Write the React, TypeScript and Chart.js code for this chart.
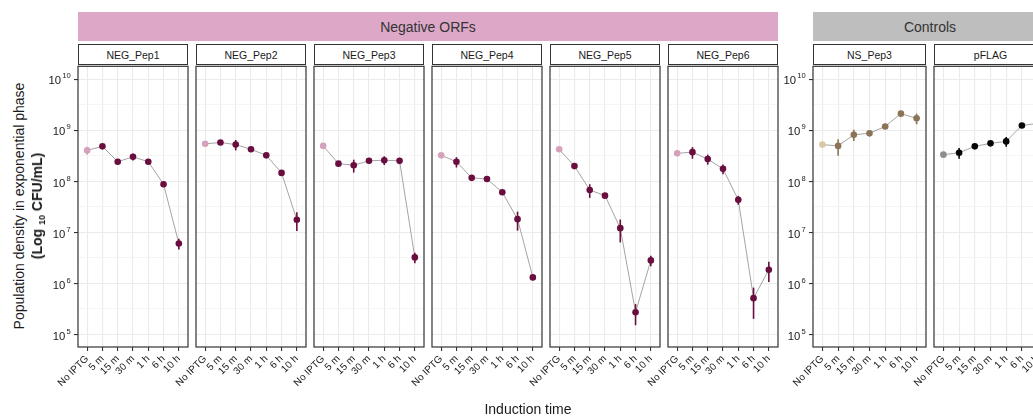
import React, { useEffect, useRef } from 'react';
import { Chart, registerables } from 'chart.js';

Chart.register(...registerables);

// ---------------- DATA ----------------
const timeLabels = ['No IPTG', '5 m', '15 m', '30 m', '1 h', '6 h', '10 h'];
const yMajorExponents = [5, 6, 7, 8, 9, 10];
const yMinorExponents = [5.5, 6.5, 7.5, 8.5, 9.5];
const yLimitExponents = [4.75, 10.25];

const negPep1Mean = [4.0e8, 4.8e8, 2.4e8, 3.0e8, 2.4e8, 8.7e7, 6.0e6];
const negPep1Sd = [0.7e8, 0.4e8, 0.2e8, 0.45e8, 0.2e8, 0.8e7, 1.4e6];
const negPep2Mean = [5.4e8, 5.7e8, 5.2e8, 4.2e8, 3.2e8, 1.45e8, 1.75e7];
const negPep2Sd = [0.3e8, 0.4e8, 1.2e8, 0.3e8, 0.2e8, 0.15e8, 0.7e7];
const negPep3Mean = [4.9e8, 2.2e8, 2.05e8, 2.5e8, 2.57e8, 2.5e8, 3.2e6];
const negPep3Sd = [0.2e8, 0.2e8, 0.58e8, 0.3e8, 0.5e8, 0.35e8, 0.75e6];
const negPep4Mean = [3.2e8, 2.4e8, 1.16e8, 1.1e8, 6.05e7, 1.8e7, 1.3e6];
const negPep4Sd = [0.2e8, 0.55e8, 0.1e8, 0.08e8, 0.4e7, 0.73e7, 0.1e6];
const negPep5Mean = [4.2e8, 1.97e8, 6.7e7, 5.2e7, 1.2e7, 2.7e5, 2.8e6];
const negPep5Sd = [0.2e8, 0.1e8, 2.0e7, 0.3e7, 5.7e6, 1.2e5, 0.65e6];
const negPep6Mean = [3.5e8, 3.7e8, 2.7e8, 1.74e8, 4.3e7, 5.1e5, 1.84e6];
const negPep6Sd = [0.2e8, 0.95e8, 0.6e8, 0.37e8, 0.85e7, 3.1e5, 0.78e6];
const nsPep3Mean = [5.2e8, 4.9e8, 8.1e8, 8.7e8, 1.18e9, 2.1e9, 1.7e9];
const nsPep3Sd = [0.3e8, 1.75e8, 2.0e8, 1.2e8, 0.8e8, 1.0e8, 0.4e9];
const pFlagMean = [3.3e8, 3.6e8, 4.8e8, 5.5e8, 6.0e8, 1.23e9, 1.35e9];
const pFlagSd = [0.2e8, 0.85e8, 0.4e8, 0.4e8, 1.3e8, 0.8e8, 1.5e8];

const panelNames = ['NEG_Pep1', 'NEG_Pep2', 'NEG_Pep3', 'NEG_Pep4', 'NEG_Pep5', 'NEG_Pep6', 'NS_Pep3', 'pFLAG'];
const panelMeans = [negPep1Mean, negPep2Mean, negPep3Mean, negPep4Mean, negPep5Mean, negPep6Mean, nsPep3Mean, pFlagMean];
const panelSds = [negPep1Sd, negPep2Sd, negPep3Sd, negPep4Sd, negPep5Sd, negPep6Sd, nsPep3Sd, pFlagSd];
const panelKinds = ['neg', 'neg', 'neg', 'neg', 'neg', 'neg', 'ns', 'pflag'];

const groupNames = ['Negative ORFs', 'Controls'];

// ---------------- STYLE / LAYOUT ----------------
const FONT = '"Liberation Sans", Arial, Helvetica, sans-serif';
const kindColors: Record<string, [string, string]> = {
  neg: ['#D5A2BB', '#6A0E3F'],
  ns: ['#D9C8A1', '#8B7457'],
  pflag: ['#8E8E8E', '#050505'],
};
const PANEL_TOP = 65;
const PANEL_H = 282;
const X_AXIS_H = 60;
const LEFT_PAD = 40;
const panelBoxes = [
  { left: 78, width: 110, showY: true },
  { left: 196, width: 110, showY: false },
  { left: 314, width: 110, showY: false },
  { left: 432, width: 110, showY: false },
  { left: 550, width: 110, showY: false },
  { left: 668, width: 110, showY: false },
  { left: 813, width: 113, showY: true },
  { left: 934, width: 113, showY: false },
];
const groupBoxes = [
  { left: 78, width: 700, bg: '#DDA8C8' },
  { left: 813, width: 234, bg: '#BEBEBE' },
];

function Panel({ idx }: { idx: number }) {
  const ref = useRef<HTMLCanvasElement>(null);
  const box = panelBoxes[idx];
  const cw = LEFT_PAD + box.width + 4;
  const ch = 2 + PANEL_H + X_AXIS_H;

  useEffect(() => {
    const mean = panelMeans[idx];
    const sd = panelSds[idx];
    const [light, dark] = kindColors[panelKinds[idx]];
    const colors = mean.map((_, i) => (i === 0 ? light : dark));

    const overlay = {
      id: 'overlay' + idx,
      afterDatasetsDraw(chart: any) {
        const { ctx, scales } = chart;
        const xs = scales.x, ys = scales.y;
        ctx.save();
        ctx.lineWidth = 1.6;
        mean.forEach((m, i) => {
          const px = xs.getPixelForValue(i);
          ctx.strokeStyle = colors[i];
          ctx.beginPath();
          ctx.moveTo(px, ys.getPixelForValue(Math.max(m - sd[i], 1)));
          ctx.lineTo(px, ys.getPixelForValue(m + sd[i]));
          ctx.stroke();
        });
        ctx.restore();
      },
      afterDraw(chart: any) {
        const { ctx, chartArea, scales } = chart;
        ctx.save();
        ctx.strokeStyle = '#333333';
        ctx.lineWidth = 1.2;
        ctx.strokeRect(chartArea.left, chartArea.top, chartArea.right - chartArea.left, chartArea.bottom - chartArea.top);
        if (box.showY) {
          ctx.fillStyle = '#1a1a1a';
          ctx.textAlign = 'left';
          ctx.textBaseline = 'alphabetic';
          const right = chartArea.left - 7.3;
          for (const e of yMajorExponents) {
            const py = scales.y.getPixelForValue(Math.pow(10, e));
            ctx.font = `7.6px ${FONT}`;
            const es = String(e);
            const we = ctx.measureText(es).width;
            ctx.fillText(es, right - we, py - 0.6);
            ctx.font = `11.3px ${FONT}`;
            const wb = ctx.measureText('10').width;
            ctx.fillText('10', right - we - 1.2 - wb, py + 5.4);
          }
        }
        ctx.restore();
      },
    };

    const chart = new Chart(ref.current as HTMLCanvasElement, {
      type: 'line',
      data: {
        datasets: [
          {
            data: mean.map((v, i) => ({ x: i, y: v })),
            borderColor: '#9A9A9A',
            borderWidth: 0.9,
            pointRadius: 3.3,
            pointHoverRadius: 3.3,
            pointBorderWidth: 0,
            pointBackgroundColor: colors,
            tension: 0,
            fill: false,
          },
        ],
      },
      options: {
        animation: false,
        responsive: false,
        maintainAspectRatio: false,
        events: [],
        layout: { padding: { left: LEFT_PAD, top: 2, right: 4, bottom: 0 } },
        plugins: { legend: { display: false }, tooltip: { enabled: false }, title: { display: false } },
        scales: {
          x: {
            type: 'linear',
            min: -0.6,
            max: 6.6,
            bounds: 'data',
            afterBuildTicks: (s: any) => {
              s.ticks = timeLabels.map((_, i) => ({ value: i }));
            },
            afterFit: (s: any) => {
              s.height = X_AXIS_H;
            },
            ticks: {
              autoSkip: false,
              minRotation: 45,
              maxRotation: 45,
              padding: 2,
              color: '#1a1a1a',
              font: { size: 10, family: FONT },
              callback: (v: any) => timeLabels[Math.round(Number(v))],
            },
            grid: { color: '#EBEBEB', lineWidth: 1.1, tickLength: 4, tickColor: '#333333', drawTicks: true },
            border: { display: false },
          },
          y: {
            type: 'logarithmic',
            min: Math.pow(10, yLimitExponents[0]),
            max: Math.pow(10, yLimitExponents[1]),
            bounds: 'data',
            afterBuildTicks: (s: any) => {
              const t = [
                ...yMajorExponents.map((e) => ({ value: Math.pow(10, e), major: true })),
                ...yMinorExponents.map((e) => ({ value: Math.pow(10, e), major: false })),
              ];
              t.sort((a, b) => a.value - b.value);
              s.ticks = t;
            },
            afterFit: (s: any) => {
              s.width = 0;
            },
            ticks: { display: false },
            grid: {
              color: (c: any) => (c.tick && c.tick.major ? '#EBEBEB' : '#F3F3F3'),
              lineWidth: (c: any) => (c.tick && c.tick.major ? 1.1 : 0.8),
              tickLength: 4,
              drawTicks: box.showY,
              tickColor: (c: any) => (c.tick && c.tick.major ? '#333333' : 'rgba(0,0,0,0)'),
            },
            border: { display: false },
          },
        },
      } as any,
      plugins: [overlay],
    });
    return () => chart.destroy();
  }, [idx]);

  return (
    <canvas
      ref={ref}
      width={cw}
      height={ch}
      style={{ position: 'absolute', left: box.left - LEFT_PAD, top: PANEL_TOP - 2, width: cw, height: ch }}
    />
  );
}

export default function App() {
  return (
    <div
      style={{
        position: 'absolute',
        left: 0,
        top: 0,
        width: 1033,
        height: 416,
        overflow: 'hidden',
        background: '#ffffff',
        fontFamily: FONT,
      }}
    >
      {groupBoxes.map((g, i) => (
        <div
          key={'g' + i}
          style={{
            position: 'absolute',
            left: g.left,
            top: 12,
            width: g.width,
            height: 29,
            background: g.bg,
            color: '#333333',
            fontSize: 14,
            display: 'flex',
            alignItems: 'center',
            justifyContent: 'center',
          }}
        >
          {groupNames[i]}
        </div>
      ))}
      {panelBoxes.map((b, i) => (
        <div
          key={'s' + i}
          style={{
            position: 'absolute',
            left: b.left,
            top: 44,
            width: b.width,
            height: 21,
            boxSizing: 'border-box',
            border: '1px solid #333333',
            background: '#ffffff',
            color: '#1a1a1a',
            fontSize: 10.5,
            display: 'flex',
            alignItems: 'center',
            justifyContent: 'center',
          }}
        >
          {panelNames[i]}
        </div>
      ))}
      {panelBoxes.map((_, i) => (
        <Panel key={'p' + i} idx={i} />
      ))}
      <div
        style={{
          position: 'absolute',
          left: 19,
          top: 206,
          transform: 'translate(-50%, -50%) rotate(-90deg)',
          whiteSpace: 'nowrap',
          fontSize: 14,
          color: '#1a1a1a',
          lineHeight: '16px',
        }}
      >
        Population density in exponential phase
      </div>
      <div
        style={{
          position: 'absolute',
          left: 38,
          top: 206,
          transform: 'translate(-50%, -50%) rotate(-90deg)',
          whiteSpace: 'nowrap',
          fontSize: 14,
          fontWeight: 'bold',
          color: '#1a1a1a',
          lineHeight: '16px',
        }}
      >
        (Log <sub style={{ fontSize: 9, verticalAlign: 'baseline', position: 'relative', top: 3 }}>10</sub> CFU/mL)
      </div>
      <div
        style={{
          position: 'absolute',
          left: 528,
          top: 401,
          transform: 'translateX(-50%)',
          whiteSpace: 'nowrap',
          fontSize: 14,
          color: '#1a1a1a',
          lineHeight: '16px',
        }}
      >
        Induction time
      </div>
    </div>
  );
}
